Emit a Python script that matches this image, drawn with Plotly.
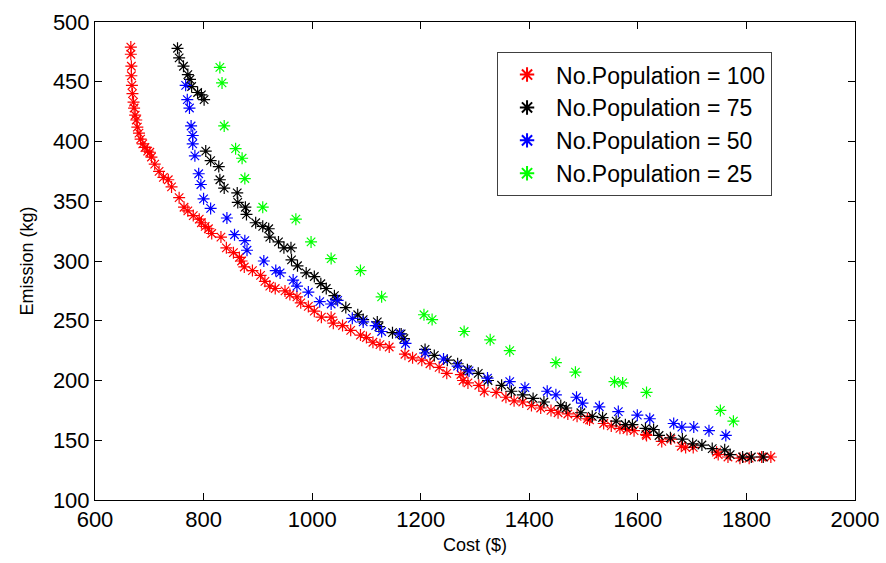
import plotly.graph_objects as go

# Pareto fronts (cost vs emission) for different population sizes
cost_p100 = [666, 666, 667, 667, 668, 669, 671, 672, 674, 676, 678, 681, 684, 688, 692, 697,
             701, 704, 710, 718, 726, 735, 741, 755, 764, 771, 781, 792, 796, 803, 809, 815,
             832, 842, 855, 866, 870, 875, 890, 905, 913, 922, 932, 950, 959, 972, 979, 993,
             1004, 1017, 1035, 1039, 1056, 1071, 1089, 1100, 1112, 1125, 1142, 1171, 1185,
             1202, 1217, 1234, 1248, 1274, 1278, 1287, 1307, 1317, 1339, 1357, 1372, 1388,
             1404, 1421, 1440, 1453, 1471, 1488, 1507, 1511, 1537, 1551, 1567, 1580, 1593,
             1615, 1616, 1644, 1661, 1680, 1688, 1702, 1745, 1748, 1766, 1788, 1805, 1828, 1845]
emis_p100 = [479, 473, 463, 455, 447, 440, 433, 428, 422, 418, 412, 407, 402, 398, 395, 392,
             391, 387, 381, 375, 370, 368, 362, 353, 345, 342, 338, 335, 332, 329, 327, 323,
             320, 311, 307, 303, 300, 295, 292, 288, 283, 279, 277, 275, 272, 270, 265, 262,
             258, 253, 253, 248, 246, 242, 238, 236, 232, 230, 228, 222, 219,
             217, 214, 211, 206, 205, 200, 198, 196, 191, 190, 186, 183, 182,
             179, 177, 175, 173, 172, 170, 168, 167, 164, 162, 160, 159, 158,
             155, 154, 149, 151, 145, 144, 144, 140, 138, 136, 135, 135, 136, 136]

cost_p75 = [752, 755, 763, 771, 775, 778, 789, 796, 801, 804, 813, 828, 830, 838, 862, 863,
            877, 879, 896, 909, 920, 922, 938, 948, 961, 962, 973, 989, 1004, 1016, 1026,
            1041, 1044, 1062, 1084, 1094, 1120, 1123, 1148, 1164, 1169, 1208, 1225, 1249,
            1268, 1286, 1306, 1324, 1349, 1367, 1388, 1407, 1427, 1458, 1468, 1495, 1516,
            1535, 1560, 1577, 1590, 1614, 1629, 1639, 1660, 1682, 1701, 1718, 1737, 1760,
            1770, 1793, 1809, 1831]
emis_p75 = [478, 470, 463, 456, 452, 446, 441, 439, 435, 392, 384, 379, 368, 361, 357, 349,
            345, 339, 332, 329, 327, 320, 316, 311, 311, 301, 296, 290, 287, 281, 277,
            271, 268, 261, 255, 251, 249, 245, 240, 239, 235, 226, 221, 217,
            214, 209, 206, 200, 196, 191, 188, 185, 182, 179, 177, 173, 170,
            169, 166, 163, 163, 160, 159, 154, 152, 151, 147, 146, 143, 142,
            138, 136, 136, 136]

cost_p50 = [767, 770, 774, 777, 780, 780, 784, 791, 795, 800, 813, 843, 857, 876, 880, 911,
            933, 941, 965, 972, 993, 1014, 1035, 1047, 1074, 1094, 1117, 1128, 1161, 1172,
            1208, 1242, 1268, 1289, 1323, 1364, 1392, 1433, 1449, 1487, 1498, 1529, 1564,
            1599, 1622, 1666, 1681, 1703, 1731, 1762]
emis_p50 = [447, 435, 428, 413, 405, 398, 388, 373, 364, 352, 344, 336, 322, 317, 309, 300,
            292, 290, 284, 279, 274, 266, 264, 267, 252, 249, 246, 241, 239, 231,
            223, 218, 212, 208, 202, 199, 194, 191, 188, 186, 181, 178, 174,
            171, 168, 164, 161, 161, 158, 154]

cost_p25 = [830, 834, 838, 859, 871, 876, 909, 970, 998, 1035, 1089, 1128, 1206, 1221, 1280,
            1328, 1364, 1449, 1485, 1557, 1572, 1616, 1752, 1776]
emis_p25 = [462, 449, 413, 394, 386, 369, 345, 335, 316, 302, 292, 270, 255, 251, 241,
            234, 225, 215, 207, 199, 198, 190, 175, 166]

series = [
    ("No.Population = 100", cost_p100, emis_p100, "#ff0000"),
    ("No.Population = 75", cost_p75, emis_p75, "#000000"),
    ("No.Population = 50", cost_p50, emis_p50, "#0000ff"),
    ("No.Population = 25", cost_p25, emis_p25, "#00ff00"),
]

x_ticks = [600, 800, 1000, 1200, 1400, 1600, 1800, 2000]
y_ticks = [100, 150, 200, 250, 300, 350, 400, 450, 500]

fig = go.Figure()
for name, xs, ys, color in series:
    fig.add_trace(go.Scatter(
        x=xs, y=ys, mode="markers", name=name,
        marker=dict(symbol="asterisk-open", size=10, color=color,
                    line=dict(color=color, width=1.2)),
    ))

axis_common = dict(
    showline=True, linecolor="black", linewidth=1, mirror="ticks",
    ticks="inside", ticklen=7, tickcolor="black", showgrid=False, zeroline=False,
    automargin=False,
    tickfont=dict(family="Liberation Sans, Arial, sans-serif", size=22, color="black"),
)

fig.update_layout(
    width=886, height=563,
    margin=dict(l=95, r=31, t=22, b=63),
    paper_bgcolor="white", plot_bgcolor="white",
    font=dict(family="Liberation Sans, Arial, sans-serif", color="black"),
    xaxis=dict(range=[600, 2000], tickvals=x_ticks, ticktext=[str(v) for v in x_ticks],
               title=dict(text="Cost ($)", font=dict(size=18), standoff=6), **axis_common),
    yaxis=dict(range=[100, 500], tickvals=y_ticks, ticktext=[str(v) for v in y_ticks],
               title=dict(text="Emission (kg)", font=dict(size=18), standoff=14), **axis_common),
    legend=dict(x=0.529, y=0.937, xanchor="left", yanchor="top",
                bordercolor="#404040", borderwidth=1, bgcolor="white",
                font=dict(size=23, color="black"), itemsizing="constant",
                itemwidth=48),
    showlegend=True,
)

fig.write_html("out.html")
